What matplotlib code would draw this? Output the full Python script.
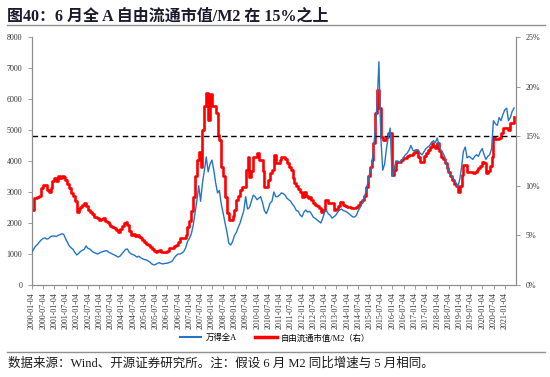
import matplotlib
matplotlib.use("Agg")
import matplotlib.pyplot as plt
import matplotlib.dates as mdates
from matplotlib.lines import Line2D
import pandas as pd
import numpy as np

plt.rcParams['font.family'] = ['Liberation Serif', 'Noto Sans CJK SC', 'DejaVu Sans']

# 万得全A (monthly, left axis)
wind_a = [
    1050, 1150, 1250, 1300, 1380, 1450, 1500, 1520, 1480, 1500, 1560, 1580,   # 2000
    1580, 1560, 1600, 1620, 1650, 1640, 1500, 1380, 1260, 1200, 1150, 1050,   # 2001
    970, 1020, 1080, 1120, 1150, 1260, 1180, 1160, 1100, 1050, 1030, 1000,    # 2002
    1030, 1060, 1080, 1100, 1110, 1060, 1030, 1000, 970, 940, 900, 930,       # 2003
    1000, 1080, 1150, 1160, 1050, 1000, 980, 950, 900, 930, 880, 850,         # 2004
    820, 810, 780, 740, 680, 650, 660, 700, 720, 690, 680, 700,               # 2005
    700, 720, 740, 780, 880, 950, 1000, 1000, 1030, 1080, 1200, 1400,         # 2006
    1500, 1650, 1900, 2300, 2700, 3200, 2700, 3300, 3700, 4130, 3650, 3900,   # 2007
    4030, 3700, 3300, 2970, 3050, 2600, 2320, 2000, 1700, 1350, 1290, 1400,   # 2008
    1600, 1700, 1850, 2000, 2200, 2400, 2850, 2450, 2500, 2700, 2900, 2850,   # 2009
    2750, 2800, 2850, 2650, 2400, 2300, 2450, 2640, 2700, 3000, 2850, 2850,   # 2010
    2900, 2970, 2950, 2900, 2800, 2750, 2700, 2600, 2520, 2400, 2380, 2260,   # 2011
    2200, 2350, 2420, 2350, 2380, 2300, 2190, 2150, 2100, 2050, 2000, 2150,   # 2012
    2350, 2400, 2300, 2250, 2160, 2200, 2250, 2350, 2420, 2450, 2400, 2380,   # 2013
    2350, 2300, 2250, 2200, 2190, 2250, 2400, 2500, 2640, 2800, 3000, 3290,   # 2014
    3600, 3800, 4300, 5000, 5800, 7200, 4800, 3700, 3900, 4400, 4800, 5060,   # 2015
    3500, 3700, 4000, 4000, 3950, 4030, 4100, 4200, 4250, 4350, 4500, 4350,   # 2016
    4300, 4350, 4350, 4250, 4200, 4300, 4400, 4450, 4500, 4600, 4650, 4600,   # 2017
    4740, 4500, 4350, 4260, 4150, 3900, 3710, 3550, 3500, 3400, 3300, 3160,   # 2018
    3400, 3810, 4300, 4450, 4100, 4150, 4100, 4050, 4150, 4200, 4150, 4300,   # 2019
    4400, 4200, 4050, 4150, 4200, 4400, 5300, 5200, 5150, 5400, 5300, 5500,   # 2020
    5650, 5700, 5300, 5400, 5600, 5710,                                       # 2021
]

# 自由流通市值/M2 (%, monthly, right axis)
ratio = [
    7.6, 8.8, 8.8, 8.9, 9.0, 9.8, 10.1, 10.1, 9.6, 9.4, 9.8, 10.5,           # 2000
    10.8, 10.5, 11.0, 10.8, 11.0, 10.9, 10.6, 10.2, 9.8, 9.3, 9.0, 8.5,      # 2001
    7.4, 7.7, 7.9, 8.1, 8.3, 8.0, 7.6, 7.4, 7.2, 6.9, 6.9, 6.8,              # 2002
    6.6, 6.7, 6.8, 6.5, 6.3, 6.1, 5.9, 5.8, 5.7, 5.5, 5.3, 5.6,              # 2003
    5.9, 6.2, 6.4, 6.0, 5.4, 5.0, 5.1, 4.9, 5.0, 4.8, 4.7, 4.5,              # 2004
    4.3, 4.1, 4.0, 3.8, 3.6, 3.4, 3.3, 3.4, 3.5, 3.3, 3.3, 3.3,              # 2005
    3.4, 3.7, 3.7, 3.7, 3.9, 4.0, 4.3, 4.7, 4.7, 4.7, 5.0, 5.8,              # 2006
    6.5, 7.5, 8.9, 11.0, 12.6, 13.4, 11.9, 15.6, 18.0, 19.4, 16.6, 19.2,     # 2007
    18.0, 18.0, 17.3, 15.1, 14.6, 11.9, 11.0, 8.9, 7.3, 6.6, 6.6, 7.0,       # 2008
    7.6, 8.6, 9.0, 9.6, 9.9, 9.9, 11.6, 12.9, 10.9, 11.5, 12.9, 12.9,        # 2009
    13.3, 12.6, 12.6, 11.5, 9.9, 9.9, 10.6, 11.3, 11.6, 13.1, 12.3, 12.3,    # 2010
    12.6, 12.9, 12.9, 12.7, 12.3, 11.9, 11.6, 10.8, 10.3, 10.0, 9.7, 9.4,    # 2011
    8.9, 9.4, 9.0, 8.8, 8.9, 8.6, 8.3, 8.1, 8.0, 7.8, 7.4, 7.6,              # 2012
    8.6, 8.6, 8.3, 8.3, 8.3, 7.6, 7.7, 8.0, 8.4, 8.4, 8.1, 8.0,              # 2013
    7.9, 7.9, 7.8, 7.8, 7.8, 7.9, 8.1, 8.4, 8.6, 9.0, 9.9, 11.0,             # 2014
    11.9, 12.6, 14.3, 17.3, 19.7, 17.8, 14.9, 14.6, 14.6, 14.9, 15.3, 15.3,  # 2015
    11.1, 11.6, 12.4, 12.4, 12.4, 12.6, 12.8, 12.8, 13.0, 13.1, 13.1, 13.3,  # 2016
    13.6, 13.4, 12.9, 12.4, 12.4, 13.0, 13.3, 13.6, 13.9, 14.3, 14.0, 13.8,  # 2017
    14.3, 13.5, 12.9, 12.7, 12.3, 11.8, 11.4, 11.0, 10.6, 10.2, 10.0, 9.4,   # 2018
    10.0, 11.1, 12.1, 12.1, 11.4, 11.4, 11.4, 11.3, 11.4, 11.6, 11.8, 12.0,  # 2019
    12.4, 12.3, 11.3, 11.5, 12.0, 12.9, 14.9, 14.7, 14.7, 14.8, 15.3, 15.8,  # 2020
    15.8, 15.8, 15.6, 16.3, 16.3, 16.9,                                      # 2021
]

threshold = 15.0
start_month = "2000-01-01"
tick_labels = [f"{y}-{m:02d}-04" for y in range(2000, 2022) for m in (1, 7)][:-1]
left_ticks = list(range(0, 8001, 1000))
right_ticks = [0, 5, 10, 15, 20, 25]

dates = pd.date_range(start_month, periods=len(wind_a), freq="MS")

fig = plt.figure(figsize=(5.5, 3.77), dpi=100)
ax = fig.add_axes([0.058, 0.244, 0.880, 0.658])
ax2 = ax.twinx()

blue = "#2375C6"
red = "#FF0000"
grey = "#8C8C8C"

ax.plot(dates, wind_a, color=blue, lw=1.0, zorder=3)
ax2.plot(dates, ratio, color=red, lw=1.9, drawstyle="steps-post", zorder=2)
ax2.axhline(threshold, color="black", lw=1.0, ls=(0, (4, 2.5)), zorder=4)

ax.set_ylim(0, 8000)
ax2.set_ylim(0, 25)
ax.set_yticks(left_ticks)
ax.set_yticklabels([str(v) for v in left_ticks])
ax2.set_yticks(right_ticks)
ax2.set_yticklabels([f"{v}%" for v in right_ticks])

tick_dates = pd.to_datetime(tick_labels)
ax.set_xticks(tick_dates)
ax.set_xticklabels(tick_labels, rotation=90, fontsize=5.2, color="#333333")
ax.set_xlim(pd.Timestamp("2000-01-04"), pd.Timestamp("2021-06-30"))

for a in (ax, ax2):
    a.spines["top"].set_visible(False)
    for s in ("left", "right", "bottom"):
        a.spines[s].set_color(grey)
        a.spines[s].set_linewidth(0.8)
    a.tick_params(axis="both", colors=grey, labelcolor="#333333", length=3, width=0.6, labelsize=5.8)
ax.tick_params(axis="x", length=3, pad=2)
ax.tick_params(axis="y", pad=4)
ax2.tick_params(axis="y", pad=4)
ax.set_zorder(ax2.get_zorder() + 1)
ax.patch.set_visible(False)

handles = [Line2D([], [], color=blue, lw=1.5), Line2D([], [], color=red, lw=2.5)]
fig.legend(handles, ["万得全A", "自由流通市值/M2（右）"], loc="center", bbox_to_anchor=(0.5, 0.103),
           ncol=2, frameon=False, fontsize=6, handlelength=2.6, columnspacing=2.2, handletextpad=0.5)

fig.text(0.013, 0.955, "图40：6 月全 A 自由流通市值/M2 在 15%之上", fontsize=11.5, fontweight="bold",
         color="#1a1a2e", va="center", ha="left")
fig.add_artist(Line2D([0.013, 0.99], [0.935, 0.935], color="#909090", lw=1.0))
fig.add_artist(Line2D([0.013, 0.99], [0.066, 0.066], color="#909090", lw=1.0))
fig.text(0.015, 0.035, "数据来源：Wind、开源证券研究所。注：假设 6 月 M2 同比增速与 5 月相同。", fontsize=9,
         color="#1a1a1a", va="center", ha="left")

fig.savefig("out.png", dpi=100)
